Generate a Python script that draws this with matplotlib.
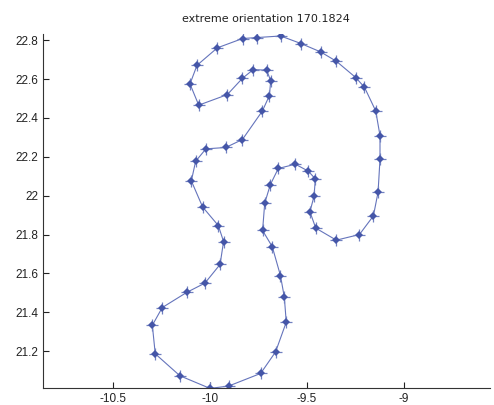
import numpy as np
import matplotlib
matplotlib.use('Agg')
import matplotlib.pyplot as plt

# contour points (closed outline)
xs = [-9.777, -9.708, -9.687, -9.694, -9.730, -9.833, -9.919, -10.021, -10.074, -10.096,
      -10.038, -9.957, -9.930, -9.948, -10.026, -10.120, -10.246, -10.297, -10.282, -10.155,
      -10.000, -9.904, -9.739, -9.662, -9.607, -9.617, -9.637, -9.679, -9.729, -9.718,
      -9.689, -9.648, -9.560, -9.493, -9.457, -9.464, -9.485, -9.455, -9.349, -9.230,
      -9.158, -9.134, -9.124, -9.124, -9.146, -9.204, -9.249, -9.349, -9.430, -9.531,
      -9.636, -9.756, -9.832, -9.962, -10.067, -10.103, -10.058, -9.911, -9.833]
ys = [22.649, 22.646, 22.591, 22.515, 22.436, 22.289, 22.248, 22.241, 22.177, 22.076,
      21.942, 21.846, 21.764, 21.646, 21.550, 21.502, 21.424, 21.333, 21.186, 21.073,
      21.008, 21.020, 21.085, 21.196, 21.349, 21.478, 21.589, 21.737, 21.821, 21.961,
      22.057, 22.140, 22.162, 22.126, 22.086, 21.997, 21.917, 21.833, 21.771, 21.800,
      21.896, 22.018, 22.188, 22.309, 22.436, 22.558, 22.608, 22.692, 22.740, 22.783,
      22.822, 22.814, 22.809, 22.761, 22.671, 22.575, 22.466, 22.520, 22.604]
title = 'extreme orientation 170.1824'
xticks = [-10.5, -10, -9.5, -9]
yticks = [21.2, 21.4, 21.6, 21.8, 22.0, 22.2, 22.4, 22.6, 22.8]

plt.rcParams['font.family'] = ['Liberation Sans', 'DejaVu Sans']

fig = plt.figure(figsize = (4.94, 4.05), dpi = 100)
ax = fig.add_axes([0.0864, 0.041, 0.9056, 0.874])

x = np.array(xs + xs[:1])
y = np.array(ys + ys[:1])
line_col = '#4a5cb0'
ax.plot(x, y, '-', color = line_col, linewidth = 0.8, alpha = 0.85)
ax.plot(xs, ys, '+', color = '#7080c0', markersize = 8, markeredgewidth = 0.9)
ax.plot(xs, ys, 'D', color = '#4556a8', markersize = 4.2, markeredgewidth = 0)

ax.set_xlim(-10.862, -8.557)
ax.set_ylim(21.008, 22.83)
ax.set_xticks(xticks)
ax.set_xticklabels(['-10.5', '-10', '-9.5', '-9'])
ax.set_yticks(yticks)
ax.set_yticklabels(['21.2', '21.4', '21.6', '21.8', '22', '22.2', '22.4', '22.6', '22.8'])
ax.tick_params(direction = 'in', length = 4, width = 0.8, labelsize = 8.5, colors = '#222222', pad = 3)
for side in ('top', 'right'):
    ax.spines[side].set_visible(False)
for side in ('left', 'bottom'):
    ax.spines[side].set_color('#333333')
    ax.spines[side].set_linewidth(0.8)
ax.set_title(title, fontsize = 8, color = '#222222', pad = 9, family = ['DejaVu Sans'])

fig.savefig('out.png', dpi = 100)
